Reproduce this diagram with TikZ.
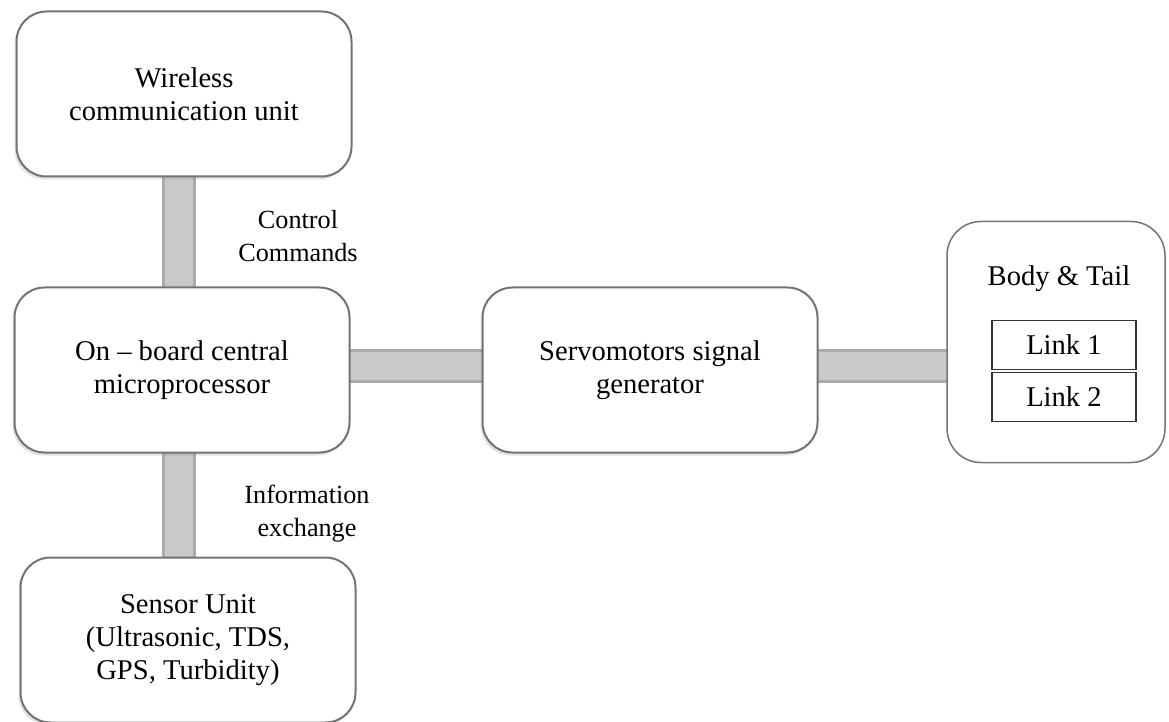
\documentclass[tikz,border=0pt]{standalone}
\usepackage{fontspec}
\setmainfont{Liberation Serif}
\usetikzlibrary{positioning,shadows,backgrounds}

\begin{document}
\begin{tikzpicture}[
    x=0.5pt, y=-0.5pt,
    node distance=135pt,
    font=\fontsize{14.3}{16.5}\selectfont,
    roundbox/.style={
		rectangle,
		rounded corners=15pt,
		draw=black!55,
		line width=1pt,
		fill=white,
		align=center,
		minimum width=167.5pt,
		minimum height=82.5pt
	},
    unitbox/.style={
		roundbox,
		drop shadow={shadow xshift=-1pt, shadow yshift=-1.5pt, opacity=0.22}
	},
	linkbox/.style={
		rectangle,
		draw=black!80,
		line width=0.8pt,
		minimum width=72pt,
		minimum height=24.5pt
	},
	busline/.style={
		line width=14pt,
		draw=black!21,
		preaction={draw=black!33, line width=17pt}
	},
	note/.style={
		font=\fontsize{13.1}{16.5}\selectfont,
		align=center
	}
  ]
  \useasboundingbox (0,0) rectangle (1169,722);

    % We start by placing the blocks
  \node [unitbox] (cpu) at (182,370) {On -- board central\\microprocessor};

  \node [unitbox, above of=cpu, node distance=138pt, xshift=1pt] (wireless)
  {Wireless\\communication unit};

  \node [unitbox, below of=cpu, xshift=3pt] (sensor)
  {Sensor Unit\\(Ultrasonic, TDS,\\GPS, Turbidity)};

  \node [unitbox, right of=cpu, node distance=234pt] (servo)
  {Servomotors signal\\generator};

  \node [roundbox, right of=servo, node distance=203pt, yshift=14pt,
         minimum width=109pt, minimum height=120.5pt, rounded corners=17pt,
         line width=0.75pt] (body) {};

  \node (bodyname) at ([xshift=1.5pt, yshift=-29pt]body.north) {Body \& Tail};

  \node [linkbox] (link1) at ([xshift=4pt, yshift=-1.5pt]body.center) {Link 1};
  \node [linkbox, below of=link1, node distance=26pt] (link2) {Link 2};

  % connectors go behind the blocks
  \begin{scope}[on background layer]
   \coordinate (bus) at ([xshift=-1.5pt]cpu.center);
   \draw [busline] (bus) -- node [note, xshift=59.5pt, yshift=-2pt] {Control\\Commands} (bus |- wireless.center);
   \draw [busline] (bus) -- node [note, xshift=64pt, yshift=-4.5pt] {Information\\exchange} (bus |- sensor.center);
   \draw [busline] ([yshift=2pt]cpu.center) -- ([yshift=2pt]servo.center);
   \draw [busline] ([yshift=2pt]servo.center) -- ([yshift=2pt]servo.center -| body.center);
  \end{scope}

\end{tikzpicture}
\end{document}
